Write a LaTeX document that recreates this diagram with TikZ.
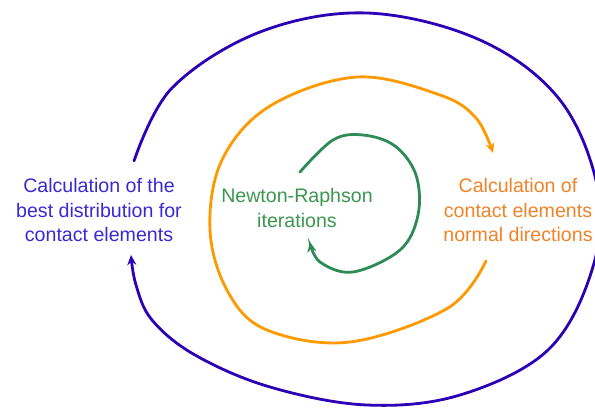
\documentclass[tikz,border=0pt]{standalone}
\usepackage{fontspec}
\setmainfont{Liberation Sans}
\usetikzlibrary{arrows.meta}
\definecolor{bl}{RGB}{44,0,180}
\definecolor{blt}{RGB}{60,40,210}
\definecolor{orl}{RGB}{255,153,0}
\definecolor{ort}{RGB}{240,130,40}
\definecolor{grl}{RGB}{46,139,87}
\definecolor{grt}{RGB}{60,150,80}
\tikzset{
  lbl/.style={align=center, font=\fontsize{19.6pt}{24.5pt}\selectfont, inner sep=0pt},
  loop/.style={line width=2.8pt, line cap=round, -{Stealth[length=10pt,width=9pt]}}
}
\begin{document}
\begin{tikzpicture}[x=1pt,y=-1pt]
\useasboundingbox (0,0) rectangle (595,408);
\node[lbl, text=blt] (left) at (99,210) {Calculation of the\\best distribution for\\contact elements};
\node[lbl, text=ort] (right) at (518,210) {Calculation of\\contact elements\\normal directions};
\node[lbl, text=grt] (mid) at (297,208) {Newton-Raphson\\iterations};
% blue outer loop
\draw[loop, draw=bl] plot[smooth, tension=0.6] coordinates {
 (134,161) (172,88) (260,32) (367,13) (480,40) (560,100) (598,190) (592,270) (548,350) (460,395) (367,405) (270,387) (195,355) (152,320) (136,285) (131,255)};
% orange middle loop
\draw[loop, draw=orl] plot[smooth, tension=0.6] coordinates {
 (486,261) (448,308) (350,342) (267,330) (228,292) (210,230) (222,160) (270,106) (357,77) (440,95) (476,118) (493,153)};
% green inner loop
\draw[loop, draw=grl] plot[smooth, tension=0.6] coordinates {
 (300,172) (333,140) (363,135) (395,146) (416,175) (418,215) (400,250) (353,272) (320,262) (310,242)};
\end{tikzpicture}
\end{document}
